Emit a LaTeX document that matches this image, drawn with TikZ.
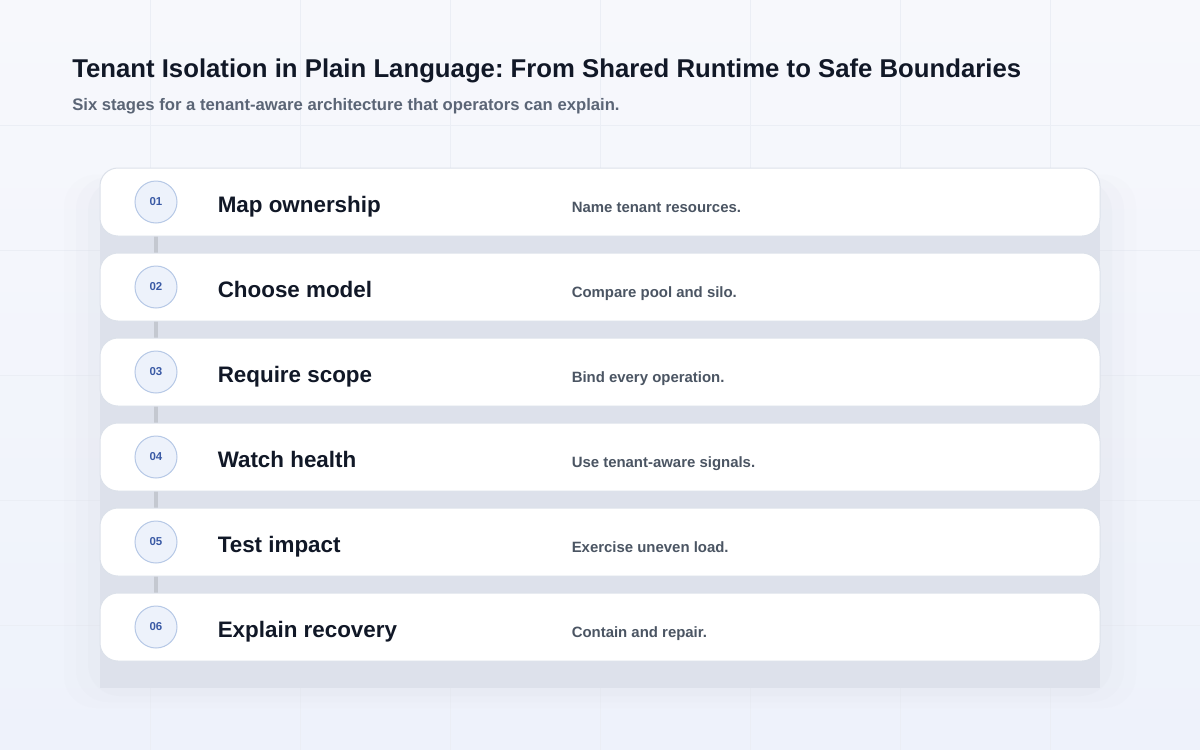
\documentclass[tikz,border=0pt]{standalone}
\usepackage{fontspec}
\setmainfont{Liberation Sans}
\frenchspacing
\usetikzlibrary{positioning,calc}
\definecolor{bgtop}{HTML}{F7F8FC}
\definecolor{bgbot}{HTML}{EEF2FB}
\definecolor{gridc}{HTML}{EBEEF5}
\definecolor{shadowc}{HTML}{DDE1EB}
\definecolor{ink}{HTML}{111827}
\definecolor{subink}{HTML}{5B6576}
\definecolor{noteink}{HTML}{4B5563}
\definecolor{cardline}{HTML}{DCE1EA}
\definecolor{badgefill}{HTML}{EDF2FB}
\definecolor{badgeline}{HTML}{B6C8E6}
\definecolor{badgetext}{HTML}{3A5AA5}
\definecolor{linkgrey}{HTML}{C4C8D0}
\pgfdeclarelayer{back}
\pgfdeclarelayer{shade}
\pgfsetlayers{back,shade,main}
\begin{document}
\begin{tikzpicture}[x=0.75pt,y=0.75pt,
    node distance=12pt,
    card/.style={rectangle,draw=cardline,fill=white,rounded corners=13.5pt,minimum width=750pt,minimum height=51pt,line width=0.75pt},
    badge/.style={circle,draw=badgeline,fill=badgefill,minimum size=31.5pt,inner sep=0pt,line width=0.75pt,text=badgetext,font=\bfseries\fontsize{8.6}{10}\selectfont},
    stage/.style={inner sep=0pt,text height=15pt,text depth=0pt,text=ink,font=\bfseries\fontsize{16.8}{20}\selectfont},
    note/.style={inner sep=0pt,text height=15pt,text depth=0pt,text=noteink,font=\bfseries\fontsize{11.2}{14}\selectfont},
    link/.style={draw=linkgrey,line width=3pt}]
  \useasboundingbox (0,0) rectangle (1200,-750);
  % background and grid
  \begin{pgfonlayer}{back}
    \shade[top color=bgtop,bottom color=bgbot] (0,0) rectangle (1200,-750);
    \foreach \gx in {150,300,...,1050} \draw[gridc,line width=0.75pt] (\gx,0) -- (\gx,-750);
    \foreach \gy in {125,250,...,625} \draw[gridc,line width=0.75pt] (0,-\gy) -- (1200,-\gy);
  \end{pgfonlayer}
  % shadow behind the stack
  \begin{pgfonlayer}{shade}
    \foreach \d/\o in {36/0.08,24/0.12,12/0.18}
      \fill[shadowc,opacity=\o,rounded corners=24pt] (100-\d,-182+\d*0.2) rectangle (1100+\d,-690-\d*0.5);
    \fill[shadowc] (100,-180) rectangle (1100,-688);
  \end{pgfonlayer}
  % titles
  \node[anchor=base west,inner sep=0pt,text=ink,font=\bfseries\fontsize{19.3}{23}\selectfont] (title) at (72,-77) {Tenant Isolation in Plain Language: From Shared Runtime to Safe Boundaries};
  \node[anchor=base west,inner sep=0pt,text=subink,font=\bfseries\fontsize{12.5}{15}\selectfont] (subtitle) at (72,-110) {Six stages for a tenant-aware architecture that operators can explain.};
  % cards
  \node[card] (k1) at (600,-202) {};
  \node[card,below=of k1] (k2) {};
  \node[card,below=of k2] (k3) {};
  \node[card,below=of k3] (k4) {};
  \node[card,below=of k4] (k5) {};
  \node[card,below=of k5] (k6) {};
  % badges
  \node[badge,right=26.25pt of k1.west] (n1) {01};
  \node[badge,right=26.25pt of k2.west] (n2) {02};
  \node[badge,right=26.25pt of k3.west] (n3) {03};
  \node[badge,right=26.25pt of k4.west] (n4) {04};
  \node[badge,right=26.25pt of k5.west] (n5) {05};
  \node[badge,right=26.25pt of k6.west] (n6) {06};
  % stage names
  \node[stage,right=88.5pt of k1.west] (s1) {Map ownership};
  \node[stage,right=88.5pt of k2.west] (s2) {Choose model};
  \node[stage,right=88.5pt of k3.west] (s3) {Require scope};
  \node[stage,right=88.5pt of k4.west] (s4) {Watch health};
  \node[stage,right=88.5pt of k5.west] (s5) {Test impact};
  \node[stage,right=88.5pt of k6.west] (s6) {Explain recovery};
  % notes
  \node[note,right=354pt of k1.west] (d1) {Name tenant resources.};
  \node[note,right=354pt of k2.west] (d2) {Compare pool and silo.};
  \node[note,right=354pt of k3.west] (d3) {Bind every operation.};
  \node[note,right=354pt of k4.west] (d4) {Use tenant-aware signals.};
  \node[note,right=354pt of k5.west] (d5) {Exercise uneven load.};
  \node[note,right=354pt of k6.west] (d6) {Contain and repair.};
  % connectors behind the cards
  \begin{pgfonlayer}{shade}
    \draw[link] (n1) -- (n2);
    \draw[link] (n2) -- (n3);
    \draw[link] (n3) -- (n4);
    \draw[link] (n4) -- (n5);
    \draw[link] (n5) -- (n6);
  \end{pgfonlayer}
\end{tikzpicture}
\end{document}
